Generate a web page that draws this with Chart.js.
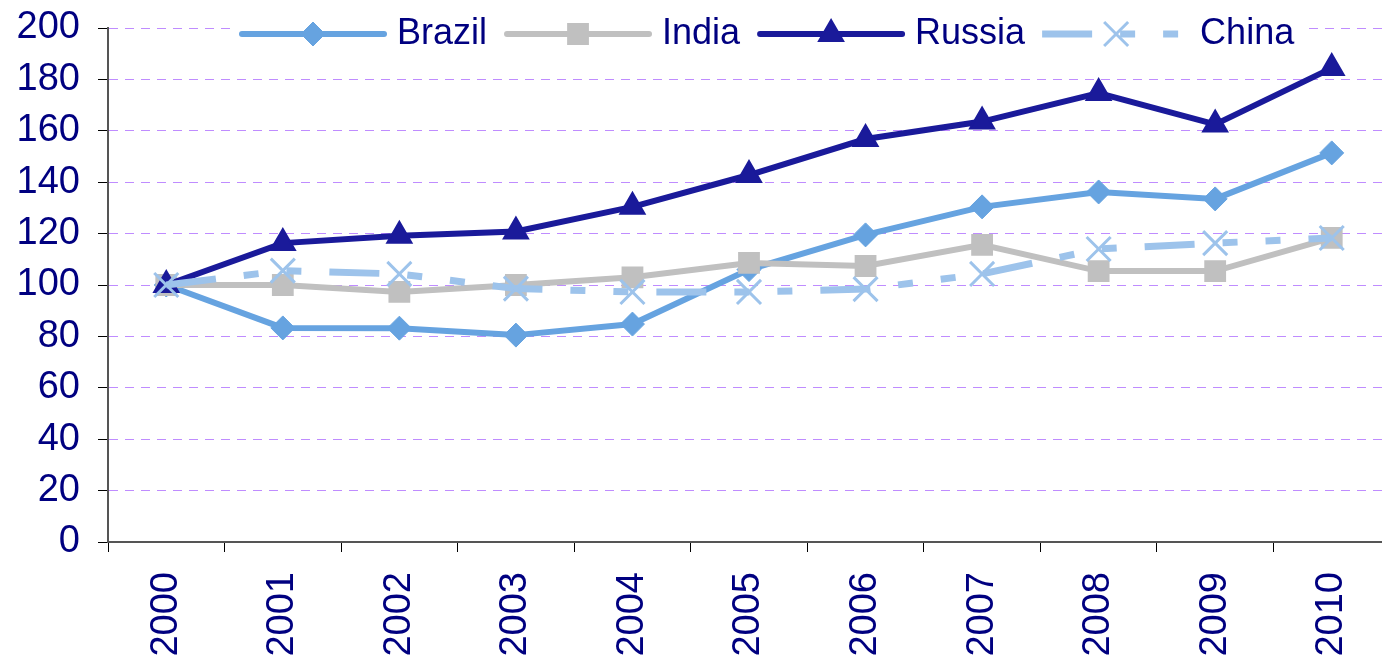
<!DOCTYPE html>
<html>
<head>
<meta charset="utf-8">
<script src="https://cdn.jsdelivr.net/npm/chart.js@4.4.0/dist/chart.umd.min.js"></script>
<style>
  html, body { margin: 0; padding: 0; background: #fff; overflow: hidden; }
  #wrap { width: 1382px; height: 659px; overflow: hidden; }
  #chart { display: block; }
</style>
</head>
<body>
<div id="wrap"><canvas id="chart" width="1410" height="659"></canvas></div>
<script>
// Values (index, 2000 = 100)
const years  = ['2000', '2001', '2002', '2003', '2004', '2005', '2006', '2007', '2008', '2009', '2010'];
const brazil = [100, 83.3, 83.2, 80.5, 84.8, 106, 119.5, 130.4, 136.2, 133.5, 151.4];
const india  = [100, 100, 97.3, 100, 103, 108.6, 107.4, 115.6, 105.4, 105.4, 118.3];
const russia = [100, 116.3, 119.2, 120.8, 130.4, 142.8, 156.8, 163.6, 174.7, 162.5, 184.4];
const china  = [100, 105.6, 104.3, 98.6, 97.3, 97.3, 98.4, 104.3, 114, 116.3, 118.3];

const fontFamily = '"Liberation Sans", Arial, sans-serif';
const textColor = '#000080';
const gridColor = '#bf8cff';

// Legend drawn as line + marker sample, like the office-style original
const lineLegend = {
  id: 'lineLegend',
  afterDraw(chart) {
    const ctx = chart.ctx;
    const y = 34;
    let x = 239;
    ctx.save();
    ctx.fillStyle = '#fff';
    ctx.fillRect(230, 8, 1078, 48);
    ctx.font = `36px ${fontFamily}`;
    ctx.textBaseline = 'middle';
    chart.data.datasets.forEach(ds => {
      ctx.strokeStyle = ds.borderColor;
      ctx.lineWidth = ds.borderWidth;
      if (ds.borderDash) {
        ctx.setLineDash(ds.borderDash);
        ctx.lineCap = 'butt';
        ctx.beginPath(); ctx.moveTo(x, y); ctx.lineTo(x + 148, y); ctx.stroke();
      } else {
        ctx.setLineDash([]);
        ctx.lineCap = 'round';
        ctx.beginPath(); ctx.moveTo(x + 3, y); ctx.lineTo(x + 145, y); ctx.stroke();
      }
      ctx.setLineDash([]);
      ctx.lineCap = 'butt';
      ctx.fillStyle = ds.pointBackgroundColor;
      ctx.strokeStyle = ds.pointBorderColor;
      ctx.lineWidth = ds.pointBorderWidth;
      Chart.helpers.drawPoint(ctx, {
        pointStyle: ds.pointStyle, radius: ds.pointRadius,
        borderWidth: ds.pointBorderWidth, rotation: 0
      }, x + 74, y);
      ctx.fillStyle = textColor;
      ctx.fillText(ds.label, x + 158, y);
      x += 158 + ctx.measureText(ds.label).width + 17;
    });
    ctx.restore();
  }
};

new Chart(document.getElementById('chart'), {
  type: 'line',
  data: {
    labels: years,
    datasets: [
      {
        label: 'Brazil', data: brazil, order: 3,
        borderColor: '#66a3e0', borderWidth: 6,
        pointStyle: 'rectRot', pointRadius: 12, pointBorderWidth: 1,
        pointBackgroundColor: '#66a3e0', pointBorderColor: '#66a3e0'
      },
      {
        label: 'India', data: india, order: 2,
        borderColor: '#c0c0c0', borderWidth: 6,
        pointStyle: 'rect', pointRadius: 14, pointBorderWidth: 2,
        pointBackgroundColor: '#c0c0c0', pointBorderColor: '#c0c0c0'
      },
      {
        label: 'Russia', data: russia, order: 1,
        borderColor: '#1a1a9a', borderWidth: 6,
        pointStyle: 'triangle', pointRadius: 14, pointBorderWidth: 2,
        pointBackgroundColor: '#1a1a9a', pointBorderColor: '#1a1a9a'
      },
      {
        label: 'China', data: china, order: 0,
        borderColor: '#9dc3eb', borderWidth: 7,
        borderDash: [50, 28, 15, 28, 15, 28], borderCapStyle: 'butt',
        pointStyle: 'crossRot', pointRadius: 17, pointBorderWidth: 3,
        pointBackgroundColor: '#9dc3eb', pointBorderColor: '#9dc3eb'
      }
    ]
  },
  options: {
    responsive: false,
    devicePixelRatio: 1,
    animation: false,
    layout: { padding: { top: 28, right: 8, left: 0, bottom: 0 } },
    elements: { line: { tension: 0 }, point: { hoverRadius: 0 } },
    plugins: { legend: { display: false }, tooltip: { enabled: false } },
    scales: {
      x: {
        offset: true,
        grid: { offset: true, drawOnChartArea: false, drawTicks: true, tickLength: 10, tickColor: '#000', tickWidth: 1 },
        border: { color: '#555', width: 2 },
        ticks: {
          color: textColor, font: { family: fontFamily, size: 38 },
          minRotation: 90, maxRotation: 90, padding: 20, autoSkip: false
        },
        afterFit(scale) {
          scale.height = 117;
          scale.paddingLeft = 0;
          scale.paddingRight = 0;
        }
      },
      y: {
        min: 0, max: 200,
        ticks: { stepSize: 20, color: textColor, font: { family: fontFamily, size: 38 }, padding: 18 },
        grid: { color: gridColor, lineWidth: 1, tickLength: 10, tickColor: '#000', tickWidth: 1 },
        border: { color: '#555', width: 2, dash: [9, 7] },
        afterFit(scale) {
          scale.width = 108;
          scale.paddingTop = 0;
          scale.paddingBottom = 0;
        }
      }
    }
  },
  plugins: [lineLegend]
});
</script>
</body>
</html>
